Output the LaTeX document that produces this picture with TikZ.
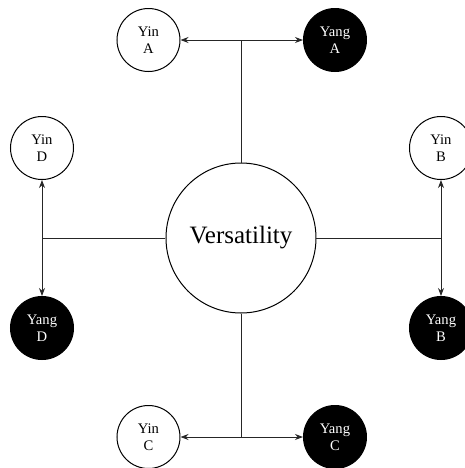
\documentclass[tikz,border=0pt]{standalone}
\usepackage{fontspec}
\setmainfont{Liberation Serif}
\usetikzlibrary{arrows.meta}
\tikzset{
  hub/.style={circle, draw, line width=0.5pt, minimum size=75pt, inner sep=0pt,
    font=\fontsize{12.5}{14}\selectfont},
  yin/.style={circle, draw, line width=0.5pt, fill=white, minimum size=31.5pt, inner sep=0pt,
    align=center, font=\fontsize{7.3}{8.7}\selectfont},
  yang/.style={yin, fill=black, text=white},
  link/.style={line width=0.45pt, draw=black!85},
  tip/.style={link, -{Stealth[length=4pt,width=3pt]}}
}
\begin{document}
\begin{tikzpicture}[x=0.5pt, y=-0.5pt]
  \useasboundingbox (0,0) rectangle (465,468);
  \clip (0,0) rectangle (465,468);

  % central hub
  \node[hub] (V) at (241,238) {Versatility};

  % paired nodes
  \node[yin]  (YinA)  at (148.5,40)  {Yin\\A};
  \node[yang] (YangA) at (335,40)    {Yang\\A};
  \node[yin]  (YinB)  at (441,148)   {Yin\\B};
  \node[yang] (YangB) at (441,328)   {Yang\\B};
  \node[yin]  (YinC)  at (148.5,437) {Yin\\C};
  \node[yang] (YangC) at (335,437)   {Yang\\C};
  \node[yin]  (YinD)  at (42,148)    {Yin\\D};
  \node[yang] (YangD) at (42,328)    {Yang\\D};

  % branch points
  \coordinate (jA) at (V.north |- YinA);
  \coordinate (jC) at (V.south |- YinC);
  \coordinate (jB) at (V.east -| YinB);
  \coordinate (jD) at (V.west -| YinD);

  % stems from the hub
  \draw[link] (V.north) -- (jA);
  \draw[link] (V.south) -- (jC);
  \draw[link] (V.east) -- (jB);
  \draw[link] (V.west) -- (jD);

  % arrows to each pair
  \draw[tip] (jA) -- (YinA);
  \draw[tip] (jA) -- (YangA);
  \draw[tip] (jC) -- (YinC);
  \draw[tip] (jC) -- (YangC);
  \draw[tip] (jB) -- (YinB);
  \draw[tip] (jB) -- (YangB);
  \draw[tip] (jD) -- (YinD);
  \draw[tip] (jD) -- (YangD);
\end{tikzpicture}
\end{document}
